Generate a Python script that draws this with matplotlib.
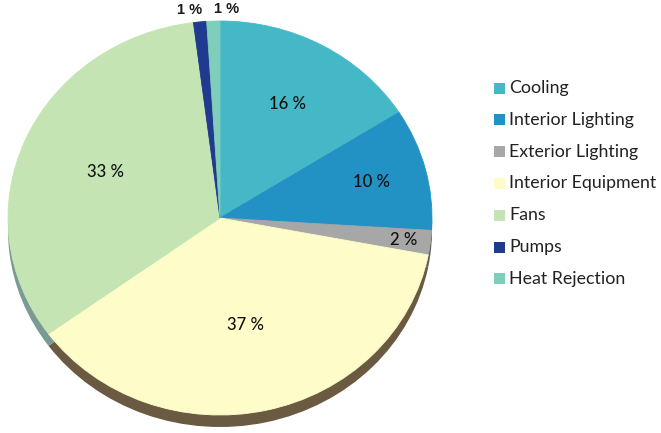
import matplotlib
matplotlib.use("Agg")
import matplotlib.pyplot as plt
from matplotlib.patches import Rectangle
import numpy as np

# Annual energy end-use breakdown (%)
categories = ["Cooling", "Interior Lighting", "Exterior Lighting",
              "Interior Equipment", "Fans", "Pumps", "Heat Rejection"]
shares = [16, 10, 2, 37, 33, 1, 1]

# Slice colours and the darker tone used for the pie's lower rim
colors = ["#45b8c8", "#2292c4", "#a7a7a7", "#fefdc9", "#c4e5b3", "#1f3a8e", "#7fcebb"]
rim_colors = ["#2d6f78", "#1a5a78", "#5e5e5e", "#6a5a42", "#7a9a94", "#142456", "#4c7c70"]

# Label placement: radial fraction and sideways nudge (pixels)
label_radius = [0.66, 0.74, 0.875, 0.555, 0.59, 1.06, 1.06]
label_nudge = [0, 0, 0, 0, 0, -9, 14]

W, H = 661, 433
fig = plt.figure(figsize=(W / 100, H / 100), dpi=100)
ax = fig.add_axes([0, 0, 1, 1])

cx, cy = 220, 218          # pie centre (pixels from top-left)
rx, ry = 212, 197          # horizontal / vertical radius in pixels
depth = 12 / ry            # rim thickness in data units

# lower rim (drawn first, shifted down)
ax.pie(shares, colors=rim_colors, startangle=90, counterclock=False,
       radius=1, center=(0, -depth), frame=True,
       wedgeprops=dict(linewidth=0))
# top face
wedges, _ = ax.pie(shares, colors=colors, startangle=90, counterclock=False,
                   radius=1, center=(0, 0), frame=True,
                   wedgeprops=dict(linewidth=0.6, edgecolor="none"))
for w, c in zip(wedges, colors):
    w.set_edgecolor(c)

ax.set_aspect("auto")
ax.set_xlim(-cx / rx, (W - cx) / rx)
ax.set_ylim(-(H - cy) / ry, cy / ry)
ax.axis("off")

# percentage labels
cum = np.cumsum([0] + shares[:-1])
total = float(sum(shares))
for i, v in enumerate(shares):
    mid = (cum[i] + v / 2) / total * 2 * np.pi
    r = label_radius[i]
    x = r * np.sin(mid) + label_nudge[i] / rx
    y = r * np.cos(mid)
    if r > 1:
        ax.text(x, y, f"{v} %", ha="center", va="center", fontsize=10.5,
                family="Liberation Sans", fontweight="bold", color="#1a1a1a")
    else:
        ax.text(x, y, f"{v} %", ha="center", va="center", fontsize=12,
                family="Lato", fontweight="medium", color="#111111")

# legend
leg_x, leg_y0, leg_dy = 494, 88, 31.8
box = 11
for i, (name, c) in enumerate(zip(categories, colors)):
    yc = leg_y0 + i * leg_dy
    fig.patches.append(Rectangle((leg_x / W, 1 - (yc + box / 2) / H), box / W, box / H,
                                 transform=fig.transFigure, facecolor=c,
                                 edgecolor="none"))
    fig.text((leg_x + 15) / W, 1 - yc / H, name, ha="left", va="center",
             fontsize=12.8, family="Lato", color="#222222")

fig.savefig("out.png", dpi=100, facecolor="white")
